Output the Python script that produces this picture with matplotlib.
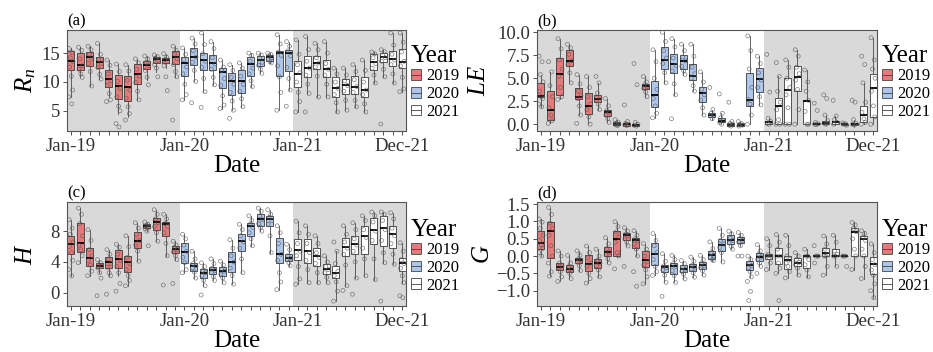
import numpy as np
import matplotlib
matplotlib.use("Agg")
from matplotlib import pyplot as plt
from matplotlib.patches import Patch
from matplotlib.lines import Line2D

plt.rcParams["font.family"] = "Liberation Serif"
plt.rcParams["mathtext.fontset"] = "custom"
plt.rcParams["mathtext.rm"] = "Liberation Serif"
plt.rcParams["mathtext.it"] = "Liberation Serif:italic"

# Monthly boxes, Jan-19 .. Dec-21 (36 months)
years = ["2019", "2020", "2021"]
year_colors = ["#E57A7A", "#ADC6EA", "#FFFFFF"]
tick_text = {0: "Jan-19", 12: "Jan-20", 24: "Jan-21", 35: "Dec-21"}

# ---- (a) Rn : whisker low, Q1, median, Q3, whisker high ----
rn_lo = [7.4, 10.8, 9.3, 10.5, 7.4, 4.5, 4.0, 6.9, 10.3, 11.8, 12.4, 10.9,
         6.9, 10.1, 8.3, 9.5, 5.4, 5.1, 5.7, 9.2, 11.5, 13.3, 5.1, 8.6,
         4.8, 8.0, 7.4, 7.4, 4.8, 5.1, 5.7, 4.8, 9.8, 10.9, 9.8, 8.3]
rn_q1 = [12.0, 12.0, 12.8, 12.4, 9.2, 7.0, 6.7, 9.7, 12.3, 13.3, 13.3, 13.1,
         11.0, 13.0, 12.1, 12.0, 8.9, 7.7, 8.1, 11.0, 12.7, 13.7, 11.0, 11.9,
         9.2, 10.8, 12.3, 10.9, 7.4, 8.0, 8.0, 7.4, 12.1, 13.5, 12.7, 12.4]
rn_med = [13.7, 13.0, 14.3, 13.5, 10.6, 9.3, 9.1, 11.4, 13.0, 14.0, 13.8, 14.4,
          13.3, 14.3, 13.8, 13.3, 11.8, 10.1, 10.2, 13.1, 13.8, 14.3, 15.0, 15.0,
          11.4, 12.4, 13.3, 12.2, 8.9, 9.5, 9.2, 8.6, 13.4, 14.4, 13.9, 13.5]
rn_q3 = [15.3, 15.1, 15.2, 14.4, 12.1, 11.2, 11.0, 13.1, 13.7, 14.3, 14.1, 15.3,
         14.4, 15.9, 15.1, 14.7, 12.4, 11.6, 12.1, 14.4, 14.5, 14.7, 15.3, 15.5,
         13.7, 14.5, 14.5, 13.8, 10.8, 10.6, 11.0, 10.8, 14.8, 15.1, 15.3, 15.7]
rn_hi = [15.9, 16.0, 16.2, 16.7, 13.8, 13.1, 13.0, 14.0, 14.5, 14.7, 14.9, 16.2,
         15.9, 17.6, 18.5, 17.0, 13.8, 13.0, 13.3, 15.0, 15.0, 15.0, 18.2, 17.0,
         17.3, 17.9, 16.7, 17.0, 12.4, 12.4, 13.0, 13.8, 15.2, 15.6, 18.5, 18.5]
rn_pts = [
    [15.8, 15.1, 14.2, 13.5, 12.6, 11.0, 8.6, 7.4, 6.2],
    [16.0, 15.5, 14.0, 12.8, 12.2, 11.4, 10.8],
    [16.2, 15.6, 14.8, 14.0, 13.2, 11.8, 9.3],
    [16.7, 14.8, 13.9, 13.2, 12.5, 11.3, 10.5],
    [13.8, 12.9, 11.4, 10.2, 9.4, 8.0, 6.9, 6.6],
    [13.1, 11.8, 10.1, 8.9, 7.4, 5.8, 5.0, 2.8, 2.2],
    [13.0, 11.9, 10.3, 8.6, 7.2, 5.7, 4.5, 3.4],
    [14.0, 13.3, 12.2, 11.0, 9.9, 8.4, 6.9],
    [14.5, 14.0, 13.4, 12.8, 12.0, 10.8, 9.5],
    [14.7, 14.4, 14.1, 13.7, 13.0, 12.4, 10.9],
    [14.9, 14.3, 13.9, 13.5, 12.8, 10.9, 8.5],
    [16.2, 15.5, 14.8, 14.0, 13.0, 11.8, 10.9, 3.4],
    [15.9, 14.8, 13.9, 12.6, 11.4, 9.6, 7.8, 6.9],
    [17.6, 16.6, 15.4, 14.3, 13.4, 12.0, 10.1, 6.4],
    [18.5, 16.5, 14.9, 13.6, 12.5, 10.6, 8.3, 5.6],
    [17.0, 15.8, 14.2, 13.1, 12.2, 10.8, 9.5],
    [13.8, 12.6, 12.0, 10.6, 9.4, 7.6, 6.0, 5.4],
    [13.0, 12.0, 10.8, 9.6, 8.2, 6.7, 5.1, 3.7],
    [13.3, 12.4, 11.0, 9.6, 8.4, 7.1, 5.7],
    [15.0, 14.6, 13.6, 12.4, 11.4, 10.2, 9.2],
    [15.0, 14.7, 14.1, 13.4, 12.9, 12.2, 11.5],
    [15.0, 14.8, 14.5, 14.2, 13.9, 13.5, 13.3],
    [18.2, 16.6, 15.2, 14.6, 12.8, 10.9, 8.2, 5.1],
    [17.0, 16.2, 15.4, 14.5, 12.5, 10.6, 8.6, 5.8],
    [17.3, 14.8, 13.0, 11.6, 10.0, 8.2, 6.6, 4.8],
    [17.9, 15.6, 13.6, 12.4, 11.2, 9.6, 8.0, 4.8],
    [16.7, 15.6, 14.2, 13.3, 12.6, 11.0, 7.4],
    [17.0, 15.0, 13.2, 12.2, 11.2, 9.6, 7.4],
    [12.4, 11.4, 10.0, 8.9, 7.8, 6.4, 4.8],
    [12.4, 11.2, 10.2, 9.4, 8.4, 6.8, 5.1],
    [13.0, 11.8, 10.4, 9.2, 8.2, 6.8, 5.7],
    [13.8, 12.0, 10.0, 8.6, 7.8, 6.2, 4.8],
    [15.2, 14.9, 14.2, 13.2, 12.4, 11.2, 9.8],
    [15.6, 15.3, 14.6, 14.2, 13.6, 12.2, 10.9, 2.7],
    [18.5, 16.4, 14.8, 13.8, 13.0, 11.4, 9.8],
    [18.5, 16.9, 15.2, 13.6, 12.8, 10.8, 8.8, 8.3],
]

# ---- (b) LE ----
le_lo = [1.9, 0.1, 2.7, 4.5, 1.0, 0.0, 1.6, 0.2, -0.2, -0.15, -0.2, 3.0,
         0.7, 4.5, 3.2, 5.4, 3.6, 1.0, 0.5, 0.04, -0.2, -0.2, 0.0, 2.1,
         0.0, 0.0, 0.0, 0.0, 0.0, -0.05, -0.05, -0.05, -0.15, -0.15, 0.0, 0.0]
le_q1 = [3.0, 0.5, 3.2, 6.3, 2.7, 1.1, 2.4, 0.9, -0.1, -0.15, -0.2, 3.8,
         1.9, 6.0, 5.6, 6.0, 4.8, 2.4, 0.84, 0.2, -0.2, -0.2, 2.0, 3.5,
         0.04, 0.04, 0.04, 3.6, 0.04, 0.0, 0.0, 0.0, -0.1, -0.1, 0.3, 0.8]
le_med = [3.05, 1.6, 5.5, 6.9, 3.0, 2.0, 2.8, 1.3, 0.05, 0.0, -0.07, 4.2,
          3.2, 7.0, 6.5, 6.9, 5.3, 3.4, 1.0, 0.4, -0.04, -0.04, 2.65, 4.9,
          0.2, 2.0, 3.7, 5.1, 2.5, 0.05, 0.1, 0.2, 0.0, 0.0, 1.0, 3.9]
le_q3 = [4.5, 3.6, 7.2, 8.1, 3.9, 3.4, 3.2, 1.6, 0.2, 0.1, 0.05, 4.4,
         4.7, 8.4, 7.6, 7.5, 6.5, 4.0, 1.2, 0.65, 0.1, 0.1, 5.6, 6.1,
         0.4, 2.9, 5.0, 6.3, 2.55, 0.1, 0.4, 0.4, 0.07, 0.1, 2.0, 5.5]
le_hi = [5.4, 5.7, 9.3, 8.7, 5.4, 5.2, 4.5, 2.8, 0.5, 0.3, 0.2, 5.2,
         8.1, 10.0, 9.3, 8.7, 8.7, 5.7, 1.6, 1.2, 0.3, 0.3, 9.6, 7.4,
         0.65, 5.2, 7.0, 8.1, 5.9, 0.2, 1.0, 0.9, 0.15, 0.5, 4.5, 9.4]
le_pts = [
    [7.4, 6.8, 5.4, 4.6, 3.6, 3.0, 2.8, 2.2, 1.9],
    [6.8, 5.7, 4.2, 3.0, 1.8, 1.0, 0.4, 0.1],
    [9.3, 8.2, 7.0, 6.0, 5.2, 4.0, 3.0, 2.7],
    [8.7, 8.3, 7.6, 6.9, 6.5, 5.6, 4.5],
    [5.4, 4.4, 3.6, 3.1, 2.8, 2.0, 1.0, 0.1],
    [5.2, 4.0, 3.0, 2.2, 1.6, 0.8, 0.0],
    [5.2, 4.5, 3.4, 2.9, 2.6, 2.2, 1.6],
    [2.8, 2.0, 1.5, 1.3, 1.0, 0.6, 0.2],
    [0.5, 0.25, 0.1, 0.0, -0.05, -0.15],
    [2.1, 0.3, 0.1, 0.0, -0.05, -0.15],
    [6.6, 4.3, 0.2, 0.0, -0.1, -0.2],
    [5.2, 4.6, 4.3, 4.1, 3.9, 3.5, 3.0],
    [8.1, 6.8, 5.0, 3.8, 2.8, 2.0, 1.2, 0.7],
    [10.0, 9.0, 8.0, 7.2, 6.6, 5.6, 4.5],
    [9.3, 8.4, 7.2, 6.4, 5.8, 4.4, 3.2, 0.6],
    [8.7, 8.0, 7.3, 6.9, 6.3, 5.8, 5.4],
    [8.7, 7.4, 6.2, 5.5, 5.0, 4.2, 3.6],
    [5.7, 4.6, 3.8, 3.2, 2.6, 1.8, 1.0],
    [4.0, 1.6, 1.2, 1.0, 0.9, 0.6],
    [3.3, 1.2, 0.7, 0.4, 0.2, 0.0],
    [2.4, 0.3, 0.1, 0.0, -0.1, -0.2],
    [0.3, 0.1, 0.0, -0.1, -0.2],
    [9.6, 8.0, 6.0, 4.0, 2.7, 2.2, 1.0, 0.0],
    [7.4, 6.6, 5.6, 4.8, 4.0, 3.0, 2.1],
    [7.6, 3.5, 0.65, 0.3, 0.1, 0.0],
    [6.7, 5.2, 3.6, 2.4, 1.6, 0.5, 0.0, 0.0],
    [7.0, 6.2, 5.0, 4.0, 3.2, 1.8, 0.0, 0.0],
    [8.1, 7.4, 6.2, 5.5, 4.8, 3.8, 1.6, 0.0],
    [5.9, 4.6, 3.6, 2.6, 1.4, 0.0, 0.0],
    [2.3, 1.5, 0.2, 0.05, 0.0, -0.05],
    [3.2, 2.8, 1.0, 0.4, 0.1, 0.0],
    [2.6, 0.9, 0.5, 0.2, 0.0],
    [0.15, 0.05, 0.0, -0.1],
    [2.6, 2.4, 0.5, 0.1, 0.0, -0.1],
    [7.4, 6.5, 4.5, 2.4, 1.3, 0.6, 0.2, 0.0],
    [9.4, 7.0, 6.0, 5.0, 3.6, 2.0, 0.8, 0.0],
]

# ---- (c) H ----
h_lo = [2.2, 3.9, 2.2, 2.6, 2.2, 2.2, 0.9, 4.1, 8.0, 6.7, 4.8, 4.3,
        2.6, 1.9, 0.9, 1.6, 1.3, 1.1, 2.6, 6.1, 8.0, 5.2, 0.4, 3.5,
        1.1, 1.3, 1.3, 1.3, -1.1, 0.9, 1.9, 2.2, 1.7, 3.9, 3.7, 1.3]
h_q1 = [5.0, 5.3, 3.5, 3.2, 3.2, 3.2, 2.7, 5.8, 8.4, 8.2, 7.4, 5.2,
        3.8, 2.8, 1.9, 2.4, 2.2, 2.7, 5.4, 7.4, 8.7, 8.7, 3.8, 4.1,
        4.3, 3.8, 3.5, 2.4, 1.9, 4.8, 5.0, 5.0, 6.3, 6.1, 5.8, 2.8]
h_med = [6.3, 6.5, 4.5, 3.5, 4.0, 4.4, 4.0, 6.7, 8.7, 9.2, 8.9, 5.7,
         5.3, 3.5, 2.6, 2.9, 2.8, 4.0, 6.7, 8.7, 9.6, 9.6, 5.0, 4.5,
         5.5, 5.4, 4.8, 3.1, 2.6, 6.0, 6.3, 7.4, 8.2, 8.4, 7.6, 3.9]
h_q3 = [7.4, 9.1, 5.8, 3.8, 4.7, 5.6, 4.8, 7.9, 9.0, 9.7, 9.2, 6.1,
        6.5, 3.8, 3.1, 3.4, 3.4, 5.3, 7.7, 9.1, 10.2, 10.0, 7.1, 5.0,
        7.0, 7.0, 5.8, 3.7, 3.5, 7.1, 7.4, 8.7, 9.7, 10.0, 8.7, 4.5]
h_hi = [9.5, 11.0, 8.2, 4.3, 5.6, 6.3, 7.4, 9.1, 9.2, 10.8, 10.2, 6.7,
        7.6, 5.4, 3.9, 4.4, 4.1, 6.9, 8.9, 10.0, 11.0, 10.8, 8.7, 6.3,
        9.3, 8.7, 7.4, 4.8, 5.4, 8.7, 9.1, 10.0, 10.5, 10.5, 10.4, 6.5]
h_pts = [
    [9.5, 8.4, 7.6, 6.6, 6.0, 5.2, 4.2, 3.0, 2.2],
    [11.0, 10.2, 9.0, 7.4, 6.2, 5.6, 4.8, 3.9],
    [8.2, 6.8, 5.6, 4.8, 4.2, 3.6, 2.8, 2.2],
    [4.3, 3.9, 3.6, 3.4, 3.2, 2.6, 1.9, -0.4],
    [5.6, 5.0, 4.4, 3.8, 3.3, 2.6, 2.2, -0.2],
    [6.3, 5.9, 5.0, 4.2, 3.4, 2.6, 1.2, 0.2],
    [7.4, 6.0, 4.6, 3.8, 3.0, 2.2, 1.6, 0.9],
    [9.1, 8.4, 7.6, 6.8, 6.2, 5.4, 4.1],
    [9.2, 8.9, 8.7, 8.5, 8.3, 8.0, 6.1],
    [10.8, 10.2, 9.6, 9.1, 8.6, 7.8, 6.7],
    [10.2, 9.6, 9.0, 8.6, 7.8, 6.4, 4.8, 1.0],
    [6.7, 6.2, 5.9, 5.6, 5.3, 4.8, 4.3, 1.2],
    [7.6, 7.0, 6.2, 5.4, 4.6, 3.9, 3.0, 2.6],
    [5.4, 4.4, 3.8, 3.5, 3.2, 2.7, 1.9],
    [3.9, 3.4, 2.9, 2.6, 2.2, 1.6, 0.9, -0.3],
    [4.4, 3.8, 3.2, 2.9, 2.6, 2.1, 1.6],
    [4.1, 3.6, 3.1, 2.8, 2.4, 1.9, 1.3],
    [6.9, 5.8, 4.8, 4.0, 3.2, 2.2, 1.1],
    [8.9, 8.2, 7.4, 6.6, 5.8, 4.4, 2.6],
    [10.0, 9.4, 8.9, 8.5, 7.8, 7.0, 6.1],
    [11.0, 10.6, 10.0, 9.5, 9.0, 8.5, 8.0],
    [10.8, 10.2, 9.8, 9.4, 8.9, 7.4, 5.2],
    [8.7, 7.8, 6.4, 5.0, 4.2, 2.6, 1.4, 0.4],
    [6.3, 5.6, 4.8, 4.5, 4.3, 3.9, 3.5],
    [9.3, 7.8, 6.4, 5.4, 4.8, 3.4, 1.8, 1.1],
    [8.7, 7.6, 6.4, 5.2, 4.2, 3.0, 1.3],
    [7.4, 6.4, 5.2, 4.6, 3.8, 2.6, 1.3],
    [4.8, 4.0, 3.4, 3.0, 2.6, 2.0, 1.3],
    [6.6, 5.4, 3.8, 2.8, 2.2, 1.4, 0.2, -1.1],
    [8.7, 7.6, 6.6, 5.8, 5.0, 3.6, 0.9, 0.3],
    [9.1, 8.2, 7.0, 6.2, 5.4, 4.0, 1.9, -0.2],
    [10.0, 9.4, 8.2, 7.2, 5.8, 4.4, 2.2],
    [10.5, 10.0, 9.2, 8.0, 6.8, 4.4, 1.7],
    [10.5, 10.2, 9.4, 8.2, 6.8, 5.2, 3.9, -1.1],
    [10.4, 9.6, 8.4, 7.4, 6.4, 5.0, 3.7],
    [6.5, 5.4, 4.3, 3.8, 3.2, 2.2, 1.3, -0.4, -0.65],
]

# ---- (d) G ----
g_lo = [0.0, -0.58, -0.73, -0.65, -0.42, -0.78, -0.6, -0.2, -0.02, 0.29, 0.0, -0.8,
        -0.56, -0.76, -0.76, -0.66, -0.61, -0.55, -0.13, -0.17, 0.2, 0.3, -0.6, -0.3,
        -0.39, -0.5, -0.63, -0.55, -0.6, 0.0, -0.55, -0.3, 0.0, -0.39, -0.65, -1.2]
g_q1 = [0.19, -0.05, -0.41, -0.47, -0.21, -0.44, -0.34, 0.0, 0.0, 0.47, 0.24, -0.31,
        -0.27, -0.47, -0.51, -0.47, -0.42, -0.37, -0.08, 0.15, 0.34, 0.39, -0.39, -0.14,
        -0.08, -0.24, -0.37, -0.29, -0.34, 0.0, 0.0, 0.0, 0.0, 0.0, 0.0, -0.52]
g_med = [0.37, 0.71, -0.31, -0.36, -0.12, -0.22, -0.19, 0.12, 0.5, 0.6, 0.45, -0.12,
         0.07, -0.32, -0.29, -0.37, -0.32, -0.27, 0.02, 0.32, 0.45, 0.47, -0.26, -0.03,
         0.0, 0.0, -0.12, -0.19, 0.0, 0.0, 0.1, 0.0, 0.0, 0.7, 0.5, -0.23]
g_q3 = [0.73, 0.97, -0.19, -0.27, -0.05, 0.02, -0.07, 0.27, 0.73, 0.68, 0.53, 0.15,
        0.39, -0.25, -0.19, -0.27, -0.22, -0.17, 0.15, 0.49, 0.6, 0.56, -0.14, 0.1,
        0.07, 0.24, 0.0, -0.06, 0.0, 0.0, 0.24, 0.2, 0.0, 0.8, 0.58, -0.04]
g_hi = [1.07, 1.40, 0.15, 0.02, 0.15, 0.29, 0.2, 0.53, 0.99, 0.82, 0.73, 0.36,
        0.65, 0.07, 0.02, -0.13, -0.03, 0.02, 0.41, 0.8, 0.72, 0.68, 0.0, 0.33,
        0.5, 0.62, 0.6, 0.1, 0.2, 0.0, 0.58, 0.6, 0.0, 0.97, 0.73, 0.35]
g_pts = [
    [1.07, 0.98, 0.8, 0.6, 0.45, 0.32, 0.22, 0.1, 0.0],
    [1.40, 1.2, 0.95, 0.8, 0.6, 0.3, 0.0, -0.2, -0.45, -0.58],
    [0.15, 0.0, -0.2, -0.28, -0.34, -0.45, -0.6, -0.73],
    [0.02, -0.2, -0.3, -0.38, -0.42, -0.5, -0.65],
    [0.15, 0.02, -0.08, -0.12, -0.18, -0.28, -0.42],
    [0.29, 0.1, -0.05, -0.2, -0.3, -0.5, -0.65, -0.78],
    [0.2, 0.0, -0.12, -0.2, -0.28, -0.4, -0.6],
    [0.53, 0.35, 0.22, 0.1, 0.04, -0.08, -0.2],
    [0.99, 0.85, 0.7, 0.55, 0.4, 0.1, 0.0, -0.37],
    [0.82, 0.72, 0.64, 0.58, 0.5, 0.4, 0.29, -0.3],
    [0.73, 0.6, 0.5, 0.44, 0.35, 0.2, 0.0, -0.45, -0.87],
    [0.36, 0.2, 0.0, -0.15, -0.25, -0.4, -0.6, -0.8],
    [0.65, 0.45, 0.3, 0.1, -0.1, -0.3, -0.45, -0.56],
    [0.07, -0.15, -0.28, -0.33, -0.4, -0.55, -0.76, -1.16],
    [0.02, -0.1, -0.22, -0.3, -0.42, -0.56, -0.76],
    [-0.13, -0.22, -0.32, -0.38, -0.44, -0.52, -0.66],
    [-0.03, -0.15, -0.26, -0.32, -0.38, -0.48, -0.61],
    [0.02, -0.1, -0.2, -0.28, -0.34, -0.42, -0.55],
    [0.41, 0.22, 0.1, 0.02, -0.04, -0.1, -0.13],
    [0.8, 0.6, 0.45, 0.35, 0.25, 0.1, -0.17],
    [0.72, 0.64, 0.52, 0.45, 0.38, 0.28, 0.2],
    [0.68, 0.6, 0.5, 0.45, 0.4, 0.3, 0.0, 0.0],
    [0.0, -0.1, -0.2, -0.28, -0.34, -0.45, -0.6, -0.73, -1.02, -1.28],
    [0.33, 0.15, 0.05, -0.03, -0.1, -0.2, -0.3, -0.5],
    [0.5, 0.3, 0.05, 0.0, 0.0, -0.05, -0.2, -0.39],
    [0.62, 0.4, 0.2, 0.0, 0.0, -0.2, -0.35, -0.5, -1.28],
    [0.6, 0.3, 0.0, -0.1, -0.2, -0.3, -0.45, -0.63],
    [0.1, 0.0, -0.1, -0.18, -0.25, -0.35, -0.55],
    [0.2, 0.0, 0.0, -0.1, -0.25, -0.4, -0.6],
    [0.3, 0.0, 0.0, 0.0, -0.2],
    [0.58, 0.35, 0.2, 0.05, 0.0, 0.0, -0.3, -0.55],
    [0.6, 0.4, 0.15, 0.05, 0.0, 0.0, -0.3],
    [0.0, 0.0, 0.0, -0.3],
    [0.97, 0.9, 0.8, 0.7, 0.5, 0.2, 0.0, -0.39],
    [0.73, 0.65, 0.55, 0.45, 0.2, 0.0, -0.3, -0.65],
    [0.35, 0.1, -0.1, -0.25, -0.4, -0.55, -0.8, -1.0, -1.2],
]

# horizontal jitter pattern for the points
jitter = np.array([-0.2, 0.12, -0.06, 0.22, -0.16, 0.04, 0.18, -0.24, 0.08, -0.1, 0.26])


def draw_panel(ax, lo, q1, med, q3, hi, pts, ylim, yticks, ylabels, ylabel, label_x, tag):
    n = len(med)
    ax.set_facecolor("white")
    ax.axvspan(-1, 11.5, color="#D9D9D9", lw=0, zorder=0)
    ax.axvspan(23.5, 37, color="#D9D9D9", lw=0, zorder=0)

    stats = [dict(whislo=lo[i], q1=q1[i], med=med[i], q3=q3[i], whishi=hi[i], fliers=[])
             for i in range(n)]
    bp = ax.bxp(stats, positions=np.arange(n), widths=0.74, patch_artist=True,
                showcaps=False, showfliers=False,
                boxprops=dict(edgecolor="#3a3a3a", linewidth=0.6),
                whiskerprops=dict(color="#4a4a4a", linewidth=0.6),
                medianprops=dict(color="black", linewidth=1.3))
    for i, box in enumerate(bp["boxes"]):
        box.set_facecolor(year_colors[i // 12])

    for i, vals in enumerate(pts):
        xs = i + jitter[:len(vals)]
        ax.scatter(xs, vals, s=8, facecolors="none", edgecolors="#555555",
                   linewidths=0.5, alpha=0.75, zorder=4)

    ax.set_xlim(-0.42, n - 0.58)
    ax.set_ylim(*ylim)
    ax.set_xticks(np.arange(n))
    ax.set_xticklabels([tick_text.get(i, "") for i in range(n)])
    ax.set_yticks(yticks)
    ax.set_yticklabels(ylabels)
    ax.tick_params(axis="both", length=3, width=0.6, color="#333333",
                   labelsize=13.5, labelcolor="#333333", pad=2)
    for sp in ax.spines.values():
        sp.set_color("#555555")
        sp.set_linewidth(0.8)

    ax.set_xlabel("Date", fontsize=18, labelpad=0)
    ax.set_ylabel(ylabel, fontsize=18)
    ax.yaxis.set_label_coords(label_x, 0.5)
    ax.set_title(tag, loc="left", fontsize=12, pad=3)

    handles = [(Patch(facecolor=c, edgecolor="#444444", linewidth=0.6),
                Line2D([], [], color="#444444", linewidth=0.6)) for c in year_colors]
    ax.legend(handles, years, title="Year", loc="center left", bbox_to_anchor=(1.0, 0.48),
              frameon=False, fontsize=12, title_fontsize=18, handlelength=0.6,
              handleheight=0.6, handletextpad=0.3, labelspacing=0.1,
              borderaxespad=0.3, borderpad=0.0, alignment="left")


fig = plt.figure(figsize=(9.33, 3.52), dpi=100)
W, H = 933.0, 352.0
ax_a = fig.add_axes([67 / W, 1 - 131 / H, 339 / W, 101.5 / H])
ax_b = fig.add_axes([537 / W, 1 - 131 / H, 340 / W, 101.5 / H])
ax_c = fig.add_axes([67 / W, 1 - 306 / H, 339 / W, 104 / H])
ax_d = fig.add_axes([537 / W, 1 - 306 / H, 340 / W, 104 / H])

draw_panel(ax_a, rn_lo, rn_q1, rn_med, rn_q3, rn_hi, rn_pts, (1.5, 19.1),
           [5, 10, 15], ["5", "10", "15"], r"$R_n$", -0.085, "(a)")
draw_panel(ax_b, le_lo, le_q1, le_med, le_q3, le_hi, le_pts, (-0.73, 10.3),
           [0, 2.5, 5, 7.5, 10], ["0.0", "2.5", "5.0", "7.5", "10.0"], r"$LE$", -0.138, "(b)")
draw_panel(ax_c, h_lo, h_q1, h_med, h_q3, h_hi, h_pts, (-1.73, 11.8),
           [0, 4, 8], ["0", "4", "8"], r"$H$", -0.088, "(c)")
draw_panel(ax_d, g_lo, g_q1, g_med, g_q3, g_hi, g_pts, (-1.44, 1.56),
           [-1.0, -0.5, 0, 0.5, 1.0, 1.5],
           ["\u22121.0", "\u22120.5", "0.0", "0.5", "1.0", "1.5"], r"$G$", -0.126, "(d)")

fig.savefig("out.png", dpi=100)
